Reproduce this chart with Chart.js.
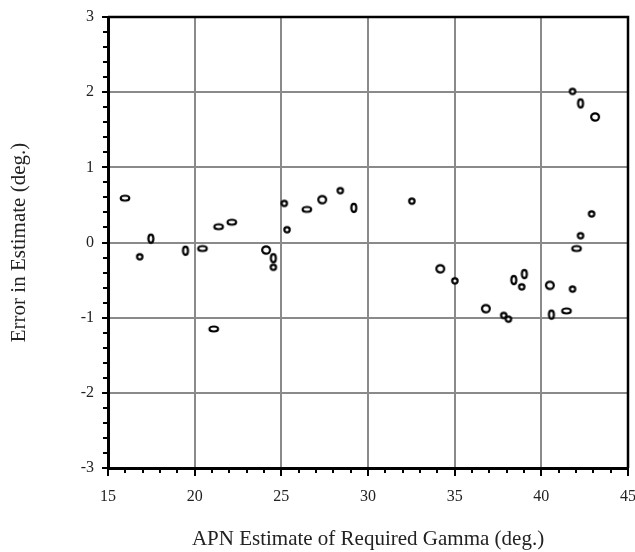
<!DOCTYPE html>
<html>
<head>
<meta charset="utf-8">
<script src="https://cdn.jsdelivr.net/npm/chart.js@4/dist/chart.umd.min.js"></script>
<style>
  html, body { margin: 0; padding: 0; background: #fff; }
  #wrap { width: 635px; height: 552px; }
</style>
</head>
<body>
<div id="wrap"><canvas id="chart"></canvas></div>
<script>
// values
const gammaEstimate = [15.98, 16.83, 17.47, 19.47, 20.45, 21.1, 21.38, 22.14, 24.12, 24.54,
    24.54, 25.17, 25.33, 26.47, 27.36, 28.4, 29.18, 32.53, 34.17, 35.01,
    36.8, 37.83, 38.1, 38.41, 38.87, 39.02, 40.49, 40.58, 41.45, 41.8,
    41.8, 42.03, 42.26, 42.26, 42.9, 43.1];
const errorEstimate = [0.59, -0.19, 0.05, -0.11, -0.08, -1.15, 0.21, 0.27, -0.1, -0.21,
    -0.33, 0.52, 0.17, 0.44, 0.57, 0.69, 0.46, 0.55, -0.35, -0.51,
    -0.88, -0.97, -1.02, -0.5, -0.59, -0.42, -0.57, -0.96, -0.91, -0.62,
    2.01, -0.08, 0.09, 1.85, 0.38, 1.67];
// marker shape per point: s small ring, c big ring, h flat ellipse, v tall ellipse
const markerShape = ["h", "s", "v", "v", "h", "h", "h", "h", "c", "v",
    "s", "s", "s", "h", "c", "s", "v", "s", "c", "s",
    "c", "s", "s", "v", "s", "v", "c", "v", "h", "s",
    "s", "h", "s", "v", "s", "c"];
const xTicks = [15, 20, 25, 30, 35, 40, 45];
const yTicks = [-3, -2, -1, 0, 1, 2, 3];

const serif = "'Liberation Serif', 'Times New Roman', serif";

function ringCanvas(rx, ry) {
    const c = document.createElement("canvas");
    c.width = 14;
    c.height = 14;
    const g = c.getContext("2d");
    g.beginPath();
    g.ellipse(7, 7, rx, ry, 0, 0, Math.PI * 2);
    g.fillStyle = "#fff";
    g.fill();
    g.lineWidth = 2.2;
    g.strokeStyle = "#000";
    g.stroke();
    return c;
}
const markers = {
    s: ringCanvas(2.7, 2.6),
    c: ringCanvas(3.9, 3.7),
    h: ringCanvas(4.3, 2.5),
    v: ringCanvas(2.5, 4.1)
};

// minor ticks + top/right frame
const framePlugin = {
    id: "frame",
    afterDraw(chart) {
        const ctx = chart.ctx;
        const a = chart.chartArea;
        const xs = chart.scales.x, ys = chart.scales.y;
        ctx.save();
        ctx.strokeStyle = "#000";
        ctx.lineWidth = 2;
        ctx.beginPath();
        for (let v = 16; v < 45; v++) {
            if (v % 5 === 0) continue;
            const px = Math.round(xs.getPixelForValue(v));
            ctx.moveTo(px, a.bottom);
            ctx.lineTo(px, a.bottom + 5);
        }
        for (let i = -14; i <= 14; i++) {
            if (i % 5 === 0) continue;
            const py = Math.round(ys.getPixelForValue(i / 5));
            ctx.moveTo(a.left - 5, py);
            ctx.lineTo(a.left + 1, py);
        }
        ctx.stroke();
        ctx.lineWidth = 2.5;
        ctx.beginPath();
        ctx.moveTo(a.left, a.top);
        ctx.lineTo(a.right, a.top);
        ctx.lineTo(a.right, a.bottom);
        ctx.stroke();
        ctx.restore();
    }
};

const points = gammaEstimate.map((x, i) => ({ x: x, y: errorEstimate[i] }));

new Chart(document.getElementById("chart"), {
    type: "scatter",
    data: {
        datasets: [{
            data: points,
            pointStyle: points.map((p, i) => markers[markerShape[i]]),
            pointRadius: 5,
            pointHoverRadius: 5
        }]
    },
    options: {
        responsive: true,
        maintainAspectRatio: false,
        animation: false,
        events: [],
        layout: { padding: { top: 17, right: 7, left: 0, bottom: 0 } },
        plugins: {
            legend: { display: false },
            tooltip: { enabled: false }
        },
        scales: {
            x: {
                type: "linear",
                min: 15,
                max: 45,
                afterBuildTicks: s => { s.ticks = xTicks.map(v => ({ value: v })); },
                afterFit: s => { s.height = 84; s.paddingLeft = 0; s.paddingRight = 0; },
                grid: { color: "#8a8a8a", lineWidth: 2, tickColor: "#000", tickWidth: 2, tickLength: 8 },
                border: { color: "#000", width: 3 },
                ticks: { color: "#222", font: { family: serif, size: 16 }, padding: 11, maxRotation: 0 },
                title: {
                    display: true,
                    text: "APN Estimate of Required Gamma (deg.)",
                    color: "#222",
                    font: { family: serif, size: 21, lineHeight: 1.2 },
                    padding: { top: 0, bottom: 0 }
                }
            },
            y: {
                type: "linear",
                min: -3,
                max: 3,
                afterBuildTicks: s => { s.ticks = yTicks.map(v => ({ value: v })); },
                afterFit: s => { s.width = 108; s.paddingTop = 0; s.paddingBottom = 0; },
                grid: { color: "#8a8a8a", lineWidth: 2, tickColor: "#000", tickWidth: 2, tickLength: 6 },
                border: { color: "#000", width: 3 },
                ticks: { color: "#222", font: { family: serif, size: 16 }, padding: 8 },
                title: {
                    display: true,
                    text: "Error in Estimate (deg.)",
                    color: "#222",
                    font: { family: serif, size: 21, lineHeight: 1.2 },
                    padding: { top: 7, bottom: 0 }
                }
            }
        }
    },
    plugins: [framePlugin]
});
</script>
</body>
</html>
